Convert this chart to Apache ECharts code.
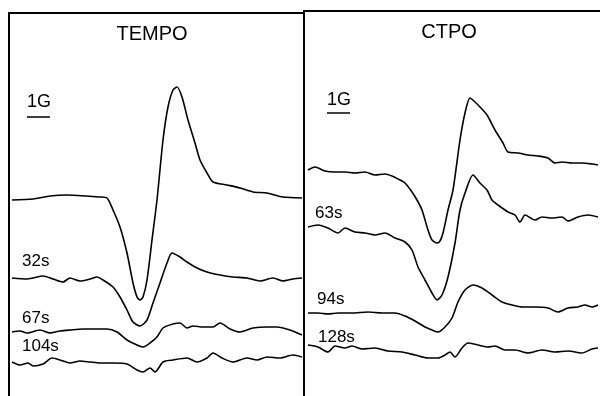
<!DOCTYPE html>
<html>
<head>
<meta charset="utf-8">
<script src="https://cdn.jsdelivr.net/npm/echarts@6/dist/echarts.min.js"></script>
<style>
    html, body { margin: 0; padding: 0; background: #fff; }
    #chart { width: 600px; height: 396px; }
</style>
</head>
<body>
<div id="chart"></div>
<script>
    // field position (1G = 23 units) and signal amplitude
    const tempo0s = [[3,196],[24,197],[41,200],[58,201],[91,199],[98,198],[104,186],[111,169],[118,143],[124,113],[128,99],[131,96],[134,99],[138,116],[143,156],[148,196],[154,256],[159,289],[164,306],[168,309],[173,299],[179,276],[186,253],[191,236],[198,223],[204,214],[218,211],[231,208],[244,204],[258,203],[274,199],[293,198]];
    const tempo32s = [[3,118],[18,117],[24,118],[34,120],[44,117],[54,114],[61,118],[71,115],[81,117],[88,119],[94,116],[104,109],[111,99],[118,86],[124,74],[131,70],[138,76],[144,93],[151,113],[158,133],[163,143],[171,139],[178,134],[188,128],[198,124],[211,121],[224,119],[238,118],[251,115],[264,118],[274,115],[284,117],[293,118]];
    const tempo67s = [[3,64],[11,65],[18,63],[31,66],[41,63],[51,65],[61,66],[74,67],[88,67],[98,67],[108,64],[118,56],[128,51],[134,49],[141,53],[148,59],[154,68],[164,72],[171,73],[178,68],[184,70],[194,69],[204,69],[211,73],[221,67],[231,64],[244,68],[258,69],[268,69],[281,66],[293,61]];
    const tempo104s = [[3,34],[11,31],[19,33],[24,30],[34,32],[43,38],[51,36],[61,33],[71,35],[81,34],[91,33],[104,33],[118,32],[128,26],[134,24],[141,28],[146,24],[154,34],[164,36],[178,38],[188,34],[198,38],[204,43],[213,38],[224,34],[238,38],[248,36],[258,39],[271,38],[284,41],[293,39]];

    const ctpo0s = [[4,226],[11,229],[21,225],[31,224],[41,224],[51,223],[61,224],[71,221],[81,222],[88,220],[94,217],[101,213],[108,204],[113,196],[118,186],[124,166],[128,156],[133,153],[136,155],[139,163],[144,186],[149,206],[156,256],[161,283],[166,298],[171,294],[176,289],[183,281],[191,266],[199,253],[204,244],[214,243],[224,241],[234,240],[244,238],[251,233],[258,234],[268,233],[278,233],[288,232],[294,231]];
    const ctpo63s = [[4,169],[14,171],[24,168],[34,163],[41,168],[51,164],[61,163],[71,161],[81,163],[91,158],[101,154],[108,146],[114,129],[121,116],[128,103],[133,96],[138,101],[144,119],[151,153],[156,186],[161,203],[169,221],[176,213],[183,206],[188,196],[194,191],[204,184],[211,181],[216,174],[221,181],[231,176],[238,179],[248,178],[258,179],[264,175],[274,179],[284,181],[294,179]];
    const ctpo94s = [[4,83],[14,83],[24,82],[34,83],[48,83],[64,84],[78,83],[91,83],[101,80],[111,75],[121,69],[128,66],[134,64],[141,69],[148,78],[154,94],[161,106],[169,111],[178,108],[188,101],[198,94],[208,91],[218,89],[231,89],[244,88],[254,84],[264,88],[274,89],[281,91],[288,89],[294,91]];
    const ctpo128s = [[4,51],[14,49],[24,44],[31,50],[41,48],[48,50],[58,47],[71,48],[84,45],[98,44],[111,41],[124,38],[134,38],[141,41],[146,44],[151,39],[158,48],[164,53],[174,51],[184,49],[191,50],[201,46],[211,46],[224,43],[238,46],[251,44],[264,45],[278,43],[288,47],[294,48]];

    const panelTitles = ['TEMPO', 'CTPO'];
    const tempoLabels = ['32s', '67s', '104s'];
    const ctpoLabels = ['63s', '94s', '128s'];

    const ink = '#000';
    const font = '"Liberation Sans", Arial, sans-serif';

    function trace(data, idx) {
        return {
            type: 'line',
            xAxisIndex: idx,
            yAxisIndex: idx,
            data: data,
            showSymbol: false,
            smooth: 0.25,
            lineStyle: { color: ink, width: 1.6 }
        }
    }

    function axisX(idx, max) {
        return {
            type: 'value', gridIndex: idx, min: 0, max: max, position: 'top',
            axisLine: { show: true, onZero: false, lineStyle: { color: ink, width: 2 } },
            axisTick: { show: false }, axisLabel: { show: false }, splitLine: { show: false }
        }
    }

    function axisY(idx, max) {
        return {
            type: 'value', gridIndex: idx, min: 0, max: max,
            axisLine: { show: true, onZero: false, lineStyle: { color: ink, width: 2 } },
            axisTick: { show: false }, axisLabel: { show: false }, splitLine: { show: false }
        }
    }

    function label(text, x, y, size, align) {
        return {
            type: 'text', x: x, y: y, silent: true,
            style: { text: text, fill: ink, font: size + 'px ' + font, textAlign: align || 'left', textVerticalAlign: 'middle' }
        }
    }

    function bar(x1, x2, y) {
        return {
            type: 'line', silent: true,
            shape: { x1: x1, y1: y, x2: x2, y2: y },
            style: { stroke: ink, lineWidth: 1.5 }
        }
    }

    const chart = echarts.init(document.getElementById('chart'), null, { renderer: 'canvas' });
    chart.setOption({
        animation: false,
        backgroundColor: '#fff',
        grid: [
            { left: 9, top: 13, width: 295, bottom: 0 },
            { left: 304, top: 11, right: 0, bottom: 0 }
        ],
        xAxis: [axisX(0, 295), axisX(1, 296)],
        yAxis: [axisY(0, 383), axisY(1, 385)],
        series: [
            trace(tempo0s, 0), trace(tempo32s, 0), trace(tempo67s, 0), trace(tempo104s, 0),
            trace(ctpo0s, 1), trace(ctpo63s, 1), trace(ctpo94s, 1), trace(ctpo128s, 1)
        ],
        graphic: [
            label(panelTitles[0], 152, 34, 20, 'center'),
            label(panelTitles[1], 449, 32, 20, 'center'),
            label('1G', 27, 102, 18),
            bar(27, 50, 117),
            label('1G', 327, 100, 18),
            bar(327, 350, 113),
            label(tempoLabels[0], 22, 261, 17),
            label(tempoLabels[1], 22, 318, 17),
            label(tempoLabels[2], 22, 346, 17),
            label(ctpoLabels[0], 315, 213, 17),
            label(ctpoLabels[1], 317, 299, 17),
            label(ctpoLabels[2], 318, 337, 17)
        ]
    });
</script>
</body>
</html>
